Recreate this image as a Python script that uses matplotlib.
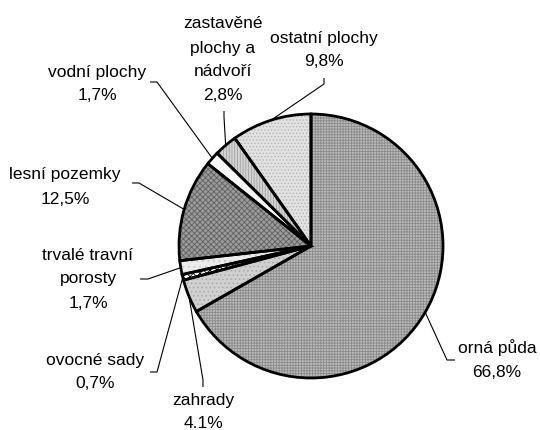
import numpy as np
import matplotlib
matplotlib.use("Agg")
import matplotlib.pyplot as plt

categories = ["orná půda", "zahrady", "ovocné sady", "trvalé travní porosty",
              "lesní pozemky", "vodní plochy", "zastavěné plochy a nádvoří",
              "ostatní plochy"]
values = [66.8, 4.1, 0.7, 1.7, 12.5, 1.7, 2.8, 9.8]
label_texts = ["orná půda\n66,8%", "zahrady\n4.1%", "ovocné sady\n0,7%",
               "trvalé travní\nporosty\n1,7%", "lesní pozemky\n12,5%",
               "vodní plochy\n1,7%", "zastavěné\nplochy a\nnádvoří\n2,8%",
               "ostatní plochy\n9,8%"]

# styles
faces = ["#bcbcbc", "#d0d0d0", "#ffffff", "#ececec", "#9c9c9c", "#f6f6f6",
         "#d4d4d4", "#e2e2e2"]
hatches = ["++++++", "....", "xxxxx", "...", "xxxxxx", "", "||||||", "....."]
hcolors = ["#8a8a8a", "#a8a8a8", "#000000", "#c8c8c8", "#606060", "#ffffff",
           "#a0a0a0", "#b4b4b4"]

# layout (pixel positions, y measured from top)
W, H = 540, 430
cx, cy, R = 311, 246, 132
text_pos = [(497, 360), (203, 412), (95, 372), (88, 279), (65, 187),
            (97, 84), (223, 60), (324, 50)]
leader_start = [[(455, 360), (447, 360)], [(203, 387), (203, 380)],
                [(150, 372), (157, 372)], [(140, 279), (148, 279)],
                [(132, 183), (139, 183)], [(150, 82), (157, 82)],
                [(224, 111), (224, 117)], [(324, 78), (324, 84)]]

plt.rcParams['font.family'] = ['Liberation Sans', 'DejaVu Sans']
plt.rcParams['hatch.linewidth'] = 0.6

fig = plt.figure(figsize=(W / 100, H / 100), dpi=100)
ax = fig.add_axes([0, 0, 1, 1])

def py(y):
    return H - y

wedges, _ = ax.pie(values, startangle=90, counterclock=False,
                   center=(cx, py(cy)), radius=R, colors=faces,
                   wedgeprops=dict(linewidth=0), frame=True)
for w, h, hc in zip(wedges, hatches, hcolors):
    w.set_hatch(h)
    w.set_edgecolor(hc)
    w.set_linewidth(0)

wedges2, _ = ax.pie(values, startangle=90, counterclock=False,
                    center=(cx, py(cy)), radius=R,
                    wedgeprops=dict(fill=False, linewidth=2.0,
                                    edgecolor='black'), frame=True)
ax.set_xlim(0, W)
ax.set_ylim(0, H)
ax.set_aspect('equal')
ax.axis('off')

total = sum(values)
cum = np.cumsum([0] + values[:-1])
for i, v in enumerate(values):
    mid = (cum[i] + v / 2) / total
    ang = np.deg2rad(90 - 360 * mid)
    ex = cx + R * np.cos(ang)
    ey = cy - R * np.sin(ang)
    pts = leader_start[i] + [(ex, ey)]
    ax.plot([p[0] for p in pts], [py(p[1]) for p in pts], color='black',
            linewidth=0.8, solid_capstyle='butt', zorder=5)
    tx, ty = text_pos[i]
    ax.text(tx, py(ty), label_texts[i], ha='center', va='center',
            fontsize=12.5, linespacing=1.75, color='black', zorder=6)

fig.savefig("out.png", dpi=100)
